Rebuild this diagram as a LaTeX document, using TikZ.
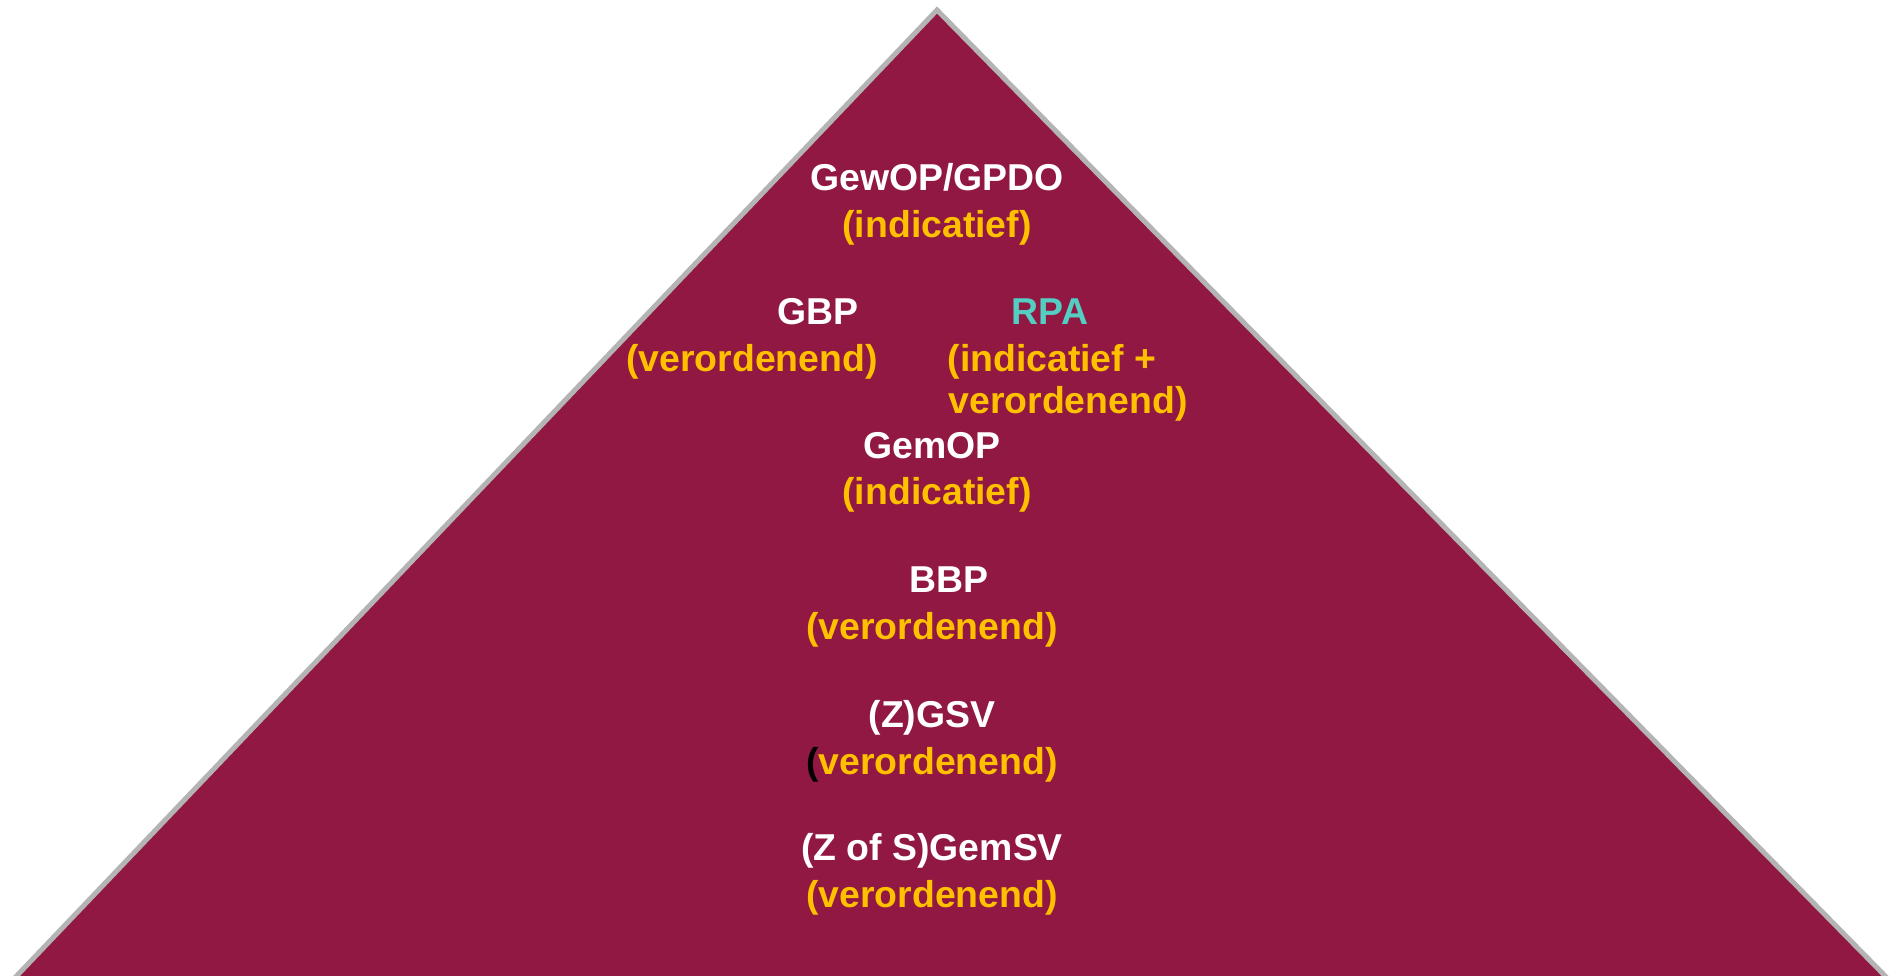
\documentclass[tikz,border=0pt]{standalone}
\usepackage{fontspec}
\setmainfont{Liberation Sans}
\definecolor{maroon}{RGB}{145,24,66}
\definecolor{edgegray}{RGB}{180,180,180}
\definecolor{gold}{RGB}{255,192,0}
\definecolor{turq}{RGB}{84,206,194}
\begin{document}
\begin{tikzpicture}[x=0.5pt,y=-0.5pt,
  lbl/.style={font=\fontsize{18.7pt}{22pt}\selectfont\bfseries, inner sep=0pt, anchor=base},
  wlbl/.style={lbl, text=white},
  ylbl/.style={lbl, text=gold}]
\useasboundingbox (0,0) rectangle (1890,975);
\fill[white] (0,0) rectangle (1890,975);
\coordinate (apex) at (937,10);
\coordinate (bl) at (8,985);
\coordinate (br) at (1894,985);
\begin{scope}
\clip (0,0) rectangle (1890,975);
\filldraw[fill=maroon, draw=edgegray, line width=2.5pt, line join=miter] (bl) -- (apex) -- (br) -- cycle;
\end{scope}
\node[wlbl] (t1) at (937,190) {GewOP/GPDO};
\node[ylbl] (t2) at (937,237) {(indicatief)};
\node[wlbl] (t3) at (818,324) {GBP};
\node[ylbl] (t4) at (752,371) {(verordenend)};
\node[lbl, text=turq] (t5) at (1050,324) {RPA};
\node[ylbl] (t6) at (1052,371) {(indicatief +};
\node[ylbl] (t7) at (1068,413) {verordenend)};
\node[wlbl] (t8) at (932,458) {GemOP};
\node[ylbl] (t9) at (937,504) {(indicatief)};
\node[wlbl] (t10) at (949,592) {BBP};
\node[ylbl] (t11) at (932,639) {(verordenend)};
\node[wlbl] (t12) at (932,727) {(Z)GSV};
\node[ylbl] (t13) at (932,774) {\textcolor{black}{(}verordenend)};
\node[wlbl] (t14) at (932,860) {(Z of S)GemSV};
\node[ylbl] (t15) at (932,907) {(verordenend)};
\end{tikzpicture}
\end{document}
